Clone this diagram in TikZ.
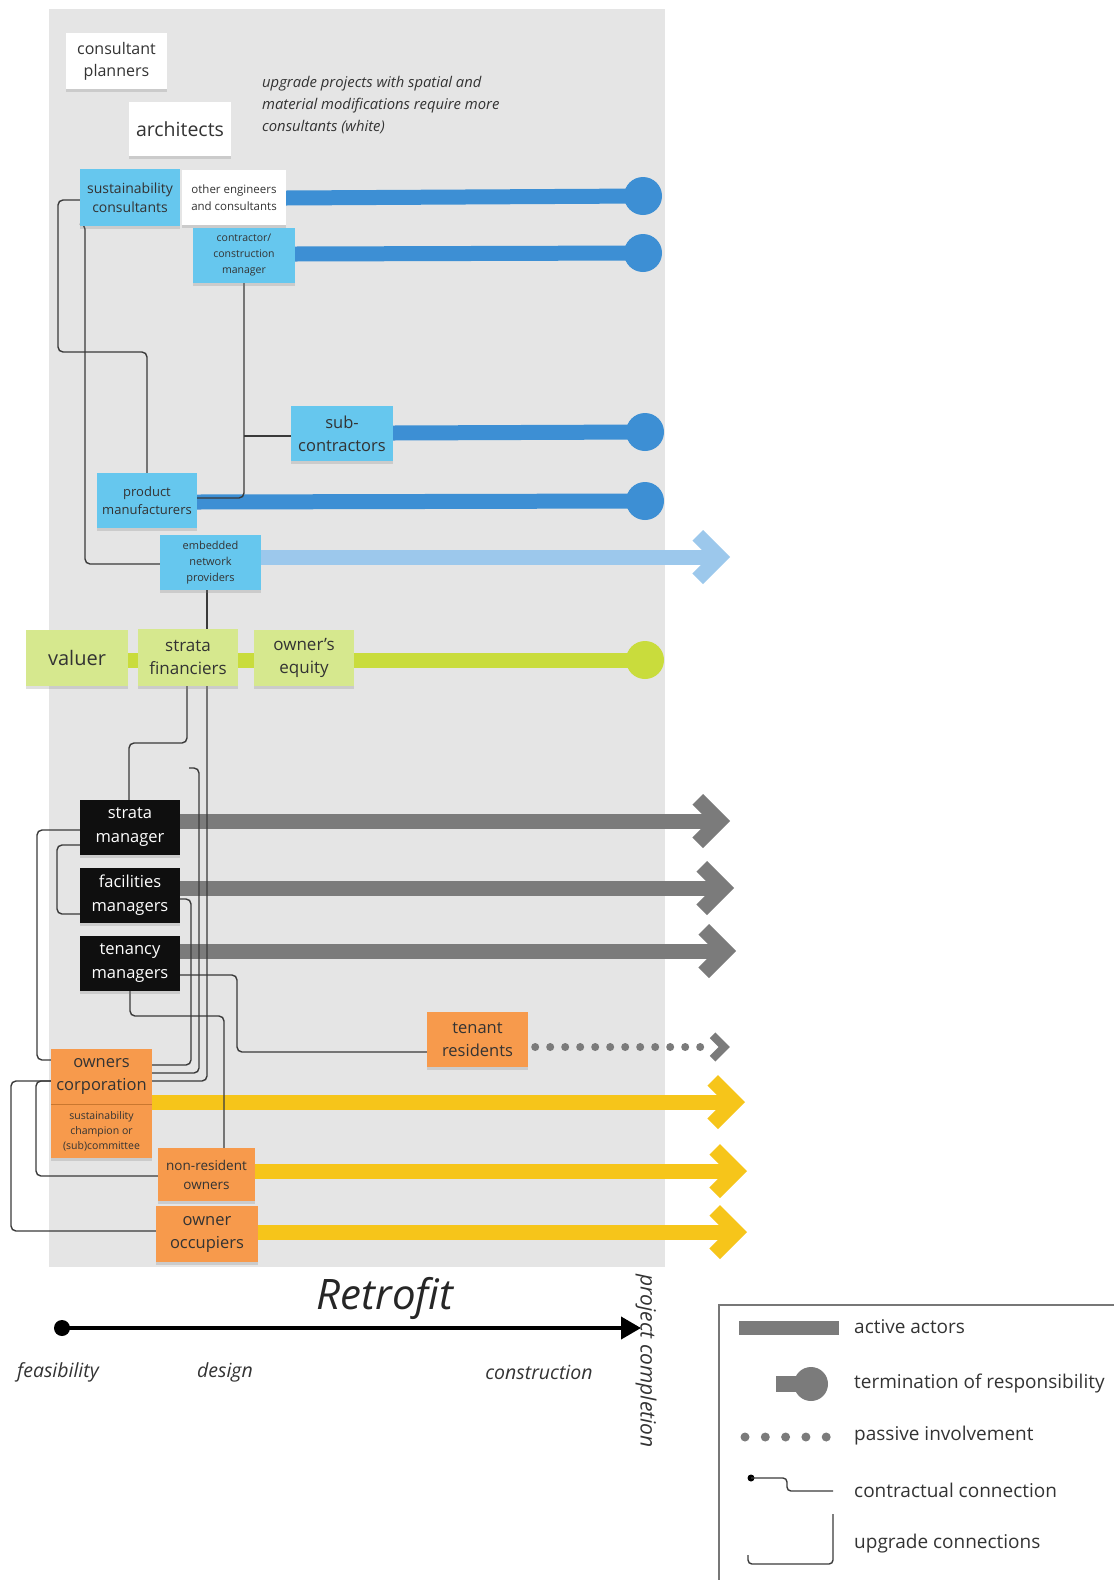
\documentclass[tikz,border=0pt]{standalone}
\usepackage{fontspec}
\setmainfont{Open Sans}
\usetikzlibrary{shadows,arrows.meta,calc}
\definecolor{bgG}{HTML}{E5E5E5}
\definecolor{txt}{HTML}{333333}
\definecolor{noteB}{HTML}{66C7EE}
\definecolor{barB}{HTML}{3D8FD4}
\definecolor{lightA}{HTML}{9CC8EC}
\definecolor{noteG}{HTML}{D6E88E}
\definecolor{greenBar}{HTML}{C9DC3C}
\definecolor{noteK}{HTML}{0F0F0F}
\definecolor{grayA}{HTML}{7B7B7B}
\definecolor{noteO}{HTML}{F79A4C}
\definecolor{darkO}{HTML}{C9772F}
\definecolor{yel}{HTML}{F6C51A}
\definecolor{connC}{HTML}{3A3A3A}
\definecolor{legL}{HTML}{777777}
\pgfdeclarelayer{bgl}
\pgfdeclarelayer{lines}
\pgfsetlayers{bgl,lines,main}
\newcommand\fz[2]{\fontsize{#1}{#2}\selectfont}
\tikzset{
 note/.style={inner sep=0pt, align=center, text=txt, drop shadow={shadow xshift=0pt, shadow yshift=-3pt, opacity=0.25}},
 wh/.style 2 args={minimum width=#1, minimum height=#2},
 wnote/.style={note, fill=white},
 bnote/.style={note, fill=noteB},
 gnote/.style={note, fill=noteG},
 knote/.style={note, fill=noteK, text=white},
 onote/.style={note, fill=noteO},
 conn/.style={draw=connC, line width=1.4pt, rounded corners=5pt},
 bar/.style={line width=15pt},
 term/.style={circle, inner sep=0pt, minimum size=38pt},
 chevbig/.pic={\draw[line width=15pt, miter limit=10] (-32.3,-21.7) -- (-10.6,0) -- (-32.3,21.7);},
 chevsmall/.pic={\draw[line width=8pt, miter limit=10] (-17.4,-11.7) -- (-5.7,0) -- (-17.4,11.7);},
 legtext/.style={anchor=west, inner sep=0pt, text=txt, font=\fz{19}{22}},
 ittext/.style={inner sep=0pt, text=txt, font=\itshape\fz{19.5}{23}}
}
\begin{document}
\begin{tikzpicture}[x=1pt,y=-1pt]
\useasboundingbox (0,0) rectangle (1114,1580);
\begin{pgfonlayer}{bgl}
\fill[bgG] (49,9) rectangle (665,1267);
\end{pgfonlayer}

% nodes
\node[wnote, wh={101}{56}, font=\fz{16}{22}] (cp) at (116.5,61) {consultant\\planners};
\node[wnote, wh={102}{54}, font=\fz{19.5}{24}] (arch) at (180,129) {architects};
\node[anchor=west, inner sep=0pt, align=left, text=txt, font=\itshape\fz{14.8}{22}] (upnote) at (262,105.5) {upgrade projects with spatial and\\material modifications require more\\consultants (white)};
\node[bnote, wh={100}{57}, font=\fz{14}{19}] (sust) at (130,197.5) {sustainability\\consultants};
\node[wnote, wh={104}{55}, font=\fz{11.5}{16.5}] (oth) at (234,197.5) {other engineers\\and consultants};
\node[bnote, wh={102}{55}, font=\fz{10.5}{16}] (ccm) at (244,255.5) {contractor/\\construction\\manager};
\node[bnote, wh={102}{55}, font=\fz{16.5}{23}] (sub) at (342,433.5) {sub-\\contractors};
\node[bnote, wh={100}{55}, font=\fz{13}{18}] (pm) at (147,500.5) {product\\manufacturers};
\node[bnote, wh={101}{55}, font=\fz{11}{16}] (enp) at (210.5,562.5) {embedded\\network\\providers};
\node[gnote, wh={102}{56}, font=\fz{20}{24}] (val) at (77,658) {valuer};
\node[gnote, wh={100}{57}, font=\fz{17}{23}] (sf) at (188,657.5) {strata\\financiers};
\node[gnote, wh={100}{56}, font=\fz{17}{23}] (oe) at (304,658) {owner's\\equity};
\node[knote, wh={100}{55}, font=\fz{16.5}{24}] (sm) at (130,827.5) {strata\\manager};
\node[knote, wh={100}{55}, font=\fz{16.5}{24}] (fm) at (130,895) {facilities\\managers};
\node[knote, wh={100}{55}, font=\fz{16.5}{24}] (tm) at (130,963.5) {tenancy\\managers};
\node[onote, wh={101}{55}, font=\fz{16.5}{23}] (tr) at (477.5,1039.5) {tenant\\residents};
\node[onote, wh={101}{55}, font=\fz{16.5}{23}] (oc) at (101.5,1076.5) {owners\\corporation};
\node[onote, wh={101}{54}, font=\fz{10.5}{15}] (sc) at (101.5,1131) {sustainability\\champion or\\(sub)committee};
\draw[darkO, line width=0.8pt] (oc.south west) -- (oc.south east);
\node[onote, wh={97}{53}, font=\fz{13.5}{19}] (nro) at (206.5,1174.5) {non-resident\\owners};
\node[onote, wh={102}{56}, font=\fz{16.5}{23}] (oo) at (207,1234) {owner\\occupiers};

% termination circles
\node[term, fill=barB] (t1) at (643,196) {};
\node[term, fill=barB] (t2) at (643,253) {};
\node[term, fill=barB] (t3) at (645,432) {};
\node[term, fill=barB] (t4) at (645,501) {};
\node[term, fill=greenBar] (g1) at (645,660) {};

% arrow tips
\coordinate (a0) at (730,557);
\coordinate (a1) at (730,821);
\coordinate (a2) at (734,888);
\coordinate (a3) at (736,951);
\coordinate (a4) at (730,1047);
\coordinate (a5) at (745,1102);
\coordinate (a6) at (747,1171);
\coordinate (a7) at (747,1232);
\coordinate (fs) at (189,768);

\begin{pgfonlayer}{lines}
% bars
\draw[bar, barB] (oth.east |- 0,198) -- (t1.center);
\draw[bar, barB] (ccm.east |- 0,254) -- (t2.center);
\draw[bar, barB] (sub.east |- 0,433) -- (t3.center);
\draw[bar, barB] (pm.east |- 0,502) -- (t4.center);
\draw[bar, greenBar] (val.east |- 0,660) -- (g1.center);
\draw[bar, lightA] (enp.east |- a0) -- ($(a0)+(-12,0)$);
\pic[color=lightA] at (a0) {chevbig};
\draw[bar, grayA] (sm.east |- a1) -- ($(a1)+(-12,0)$);
\pic[color=grayA] at (a1) {chevbig};
\draw[bar, grayA] (fm.east |- a2) -- ($(a2)+(-12,0)$);
\pic[color=grayA] at (a2) {chevbig};
\draw[bar, grayA] (tm.east |- a3) -- ($(a3)+(-12,0)$);
\pic[color=grayA] at (a3) {chevbig};
\draw[grayA, line width=8pt, line cap=round, dash pattern=on 0pt off 15pt] ($(tr.east |- a4)+(7,0)$) -- ($(a4)+(-26,0)$);
\pic[color=grayA] at (a4) {chevsmall};
\draw[bar, yel] (oc.east |- a5) -- ($(a5)+(-12,0)$);
\pic[color=yel] at (a5) {chevbig};
\draw[bar, yel] (nro.east |- a6) -- ($(a6)+(-12,0)$);
\pic[color=yel] at (a6) {chevbig};
\draw[bar, yel] (oo.east |- a7) -- ($(a7)+(-12,0)$);
\pic[color=yel] at (a7) {chevbig};

% connectors
\draw[conn] (sust.west |- 0,200) -- (58,200) -- (58,352) -- (147,352) -- (pm.north);
\draw[conn] (sust.west |- 0,224) -- (85,224) -- (85,564) -- (enp.west |- 0,564);
\draw[conn] (ccm.south) -- (244,498) -- (pm.east |- 0,498);
\draw[conn] (244,436) -- (sub.west |- 0,436);
\draw[conn] (enp.south -| 207,0) -- (sf.north -| 207,0);
\draw[conn] (sf.south -| 207,0) -- (207,1081) -- (oc.east |- 0,1081);
\draw[conn] (sf.south -| 187,0) -- (187,743) -- (129,743) -- (sm.north -| 129,0);
\draw[conn] (fs) -- (199,768) -- (199,1073) -- (oc.east |- 0,1073);
\draw[conn] (fm.east |- 0,899) -- (191,899) -- (191,1065) -- (oc.east |- 0,1065);
\draw[conn] (tm.east |- 0,975) -- (237,975) -- (237,1052) -- (tr.west |- 0,1052);
\draw[conn] (tm.south) -- (130,1016) -- (224,1016) -- (nro.north -| 224,0);
\draw[conn] (sm.west |- 0,830) -- (37,830) -- (37,1060) -- (oc.west |- 0,1060);
\draw[conn] (sm.west |- 0,845) -- (57,845) -- (57,914) -- (fm.west |- 0,914);
\draw[conn] (sc.west |- 0,1081) -- (11,1081) -- (11,1231) -- (oo.west |- 0,1231);
\draw[conn] (sc.west |- 0,1081) -- (36,1081) -- (36,1176) -- (nro.west |- 0,1176);
\end{pgfonlayer}

% timeline
\node[circle, fill=black, inner sep=0pt, minimum size=16pt] (tl0) at (62,1328) {};
\coordinate (tl1) at (641,1328);
\draw[line width=4pt, -{Triangle[length=20pt, width=22pt]}] (tl0.center) -- (tl1);
\node[inner sep=0pt, text=black!85, font=\itshape\fz{42}{48}] (retro) at (385,1298) {Retrofit};
\node[ittext] (feas) at (58,1372) {feasibility};
\node[ittext] (des) at (225,1372) {design};
\node[ittext] (cons) at (539,1372) {construction};
\node[ittext, rotate=-90, font=\itshape\fz{21}{24}] (pc) at (646,1361) {project completion};

% legend
\draw[legL, line width=1.3pt] (719,1580) -- (719,1305) -- (1114,1305);
\fill[grayA] (739,1321) rectangle (839,1335);
\node[legtext] (l1) at (854,1327) {active actors};
\fill[grayA] (776,1376) rectangle (806,1392);
\fill[grayA] (811,1384) circle (17);
\node[legtext] (l2) at (854,1383) {termination of responsibility};
\foreach \k in {0,...,4} \fill[grayA] (745+20.3*\k,1437) circle (4.5);
\node[legtext] (l3) at (854,1436) {passive involvement};
\fill[black] (751,1478) circle (3.5);
\draw[connC, line width=1.4pt, rounded corners=4pt] (751,1478) -- (787,1478) -- (787,1491) -- (833,1491);
\node[legtext] (l4) at (854,1490) {contractual connection};
\draw[connC, line width=1.4pt, rounded corners=4pt] (833,1514) -- (833,1564) -- (748,1564) -- (748,1555);
\node[legtext] (l5) at (854,1544) {upgrade connections};
\end{tikzpicture}
\end{document}
